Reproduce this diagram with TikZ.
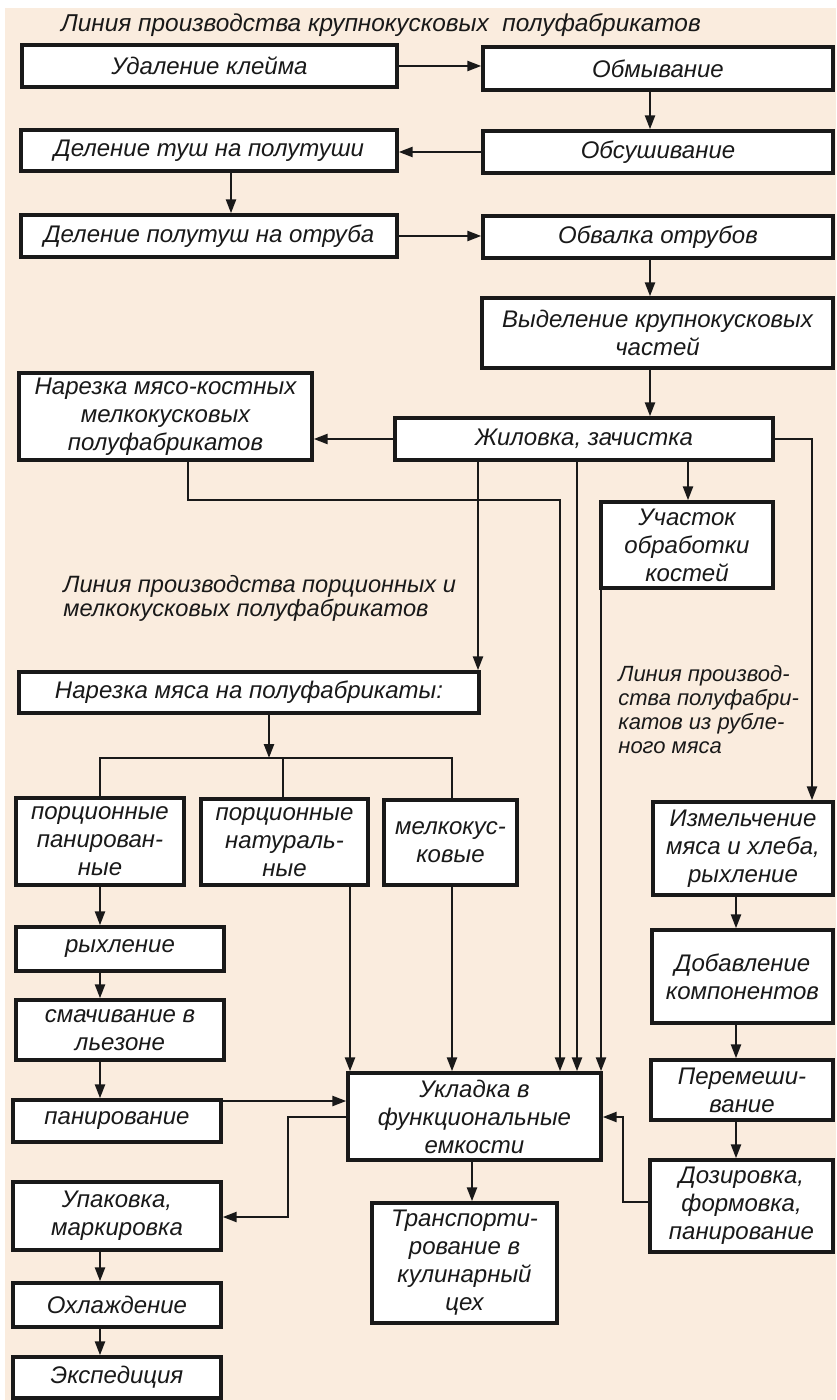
\documentclass[tikz,border=0pt]{standalone}
\usepackage{fontspec}
\setmainfont{Liberation Sans}
\usetikzlibrary{arrows.meta}
\definecolor{bg}{RGB}{250,236,222}
\definecolor{ink}{RGB}{25,25,25}
\newcommand\boxfont{\fontsize{12}{14}\selectfont\itshape}
\newcommand\notefont{\fontsize{11}{12}\selectfont\itshape}
\newcommand\bx[6]{%
  \pgfmathsetmacro\bxw{(#4-#2)*0.5}%
  \pgfmathsetmacro\bxh{(#5-#3)*0.5}%
  \pgfmathsetmacro\bxx{(#2+#4)/2}%
  \pgfmathsetmacro\bxy{(#3+#5)/2}%
  \node[box,minimum width=\bxw pt,minimum height=\bxh pt] (#1) at (\bxx,\bxy) {#6};}
\begin{document}
\begin{tikzpicture}[x=0.5pt,y=-0.5pt,
  box/.style={draw=ink, line width=1.7pt, fill=white, inner sep=0pt, align=center, font=\boxfont, text=ink},
  con/.style={draw=ink, line width=1.2pt},
  arr/.style={con, -{Triangle[length=7pt,width=5pt]}},
  note/.style={font=\notefont, text=ink, align=left, inner sep=0pt}]
\useasboundingbox (0,0) rectangle (836,1400);
\fill[white] (0,0) rectangle (836,1400);
\fill[bg] (5,8) rectangle (836,1400);

% free texts
\node[note, font=\fontsize{12.2}{13}\selectfont\itshape] (t1) at (381,25) {Линия производства крупнокусковых\ \ полуфабрикатов};
\node[note, anchor=north west, font=\fontsize{11.8}{12}\selectfont\itshape] (t2) at (63,575) {Линия производства порционных и\\мелкокусковых полуфабрикатов};
\node[note, anchor=north west] (t3) at (618,665) {Линия производ-\\ства полуфабри-\\катов из рубле-\\ного мяса};

% boxes
\bx{ud}{22}{45}{397}{87}{Удаление клейма}
\bx{obm}{483}{47}{833}{90}{Обмывание}
\bx{del1}{21}{130}{397}{171}{Деление туш на полутуши}
\bx{obs}{483}{131}{833}{173}{Обсушивание}
\bx{del2}{21}{215}{397}{257}{Деление полутуш на отруба}
\bx{obv}{483}{216}{833}{258}{Обвалка отрубов}
\bx{vyd}{482}{298}{833}{368}{Выделение крупнокусковых\\частей}
\bx{nkost}{19}{373}{312}{460}{Нарезка мясо-костных\\мелкокусковых\\полуфабрикатов}
\bx{zhil}{395}{418}{773}{460}{Жиловка, зачистка}
\bx{uch}{601}{502}{773}{588}{Участок\\обработки\\костей}
\bx{narez}{19}{672}{479}{713}{Нарезка мяса на полуфабрикаты:}
\bx{pp}{16}{798}{184}{885}{порционные\\панирован-\\ные}
\bx{pn}{201}{799}{368}{885}{порционные\\натураль-\\ные}
\bx{mk}{384}{800}{517}{885}{мелкокус-\\ковые}
\bx{izm}{653}{802}{833}{895}{Измельчение\\мяса и хлеба,\\рыхление}
\bx{ryh}{16}{927}{224}{971}{рыхление}
\bx{smach}{16}{1000}{224}{1060}{смачивание в\\льезоне}
\bx{pan}{13}{1100}{221}{1142}{панирование}
\bx{dob}{652}{930}{833}{1023}{Добавление\\компонентов}
\bx{per}{651}{1060}{833}{1120}{Перемеши-\\вание}
\bx{ukl}{348}{1073}{601}{1160}{Укладка в\\функциональные\\емкости}
\bx{doz}{650}{1160}{833}{1252}{Дозировка,\\формовка,\\панирование}
\bx{upak}{13}{1182}{221}{1250}{Упаковка,\\маркировка}
\bx{trans}{372}{1203}{557}{1323}{Транспорти-\\рование в\\кулинарный\\цех}
\bx{ohl}{13}{1283}{221}{1327}{Охлаждение}
\bx{eksp}{13}{1357}{221}{1398}{Экспедиция}

% helper coordinates
\coordinate (xA) at (650,0);
\coordinate (xB) at (231,0);
\coordinate (xC) at (188,0);
\coordinate (yC) at (0,500);
\coordinate (xD) at (560,0);
\coordinate (xE) at (478,0);
\coordinate (xF) at (577,0);
\coordinate (xG) at (688,0);
\coordinate (xH) at (601,0);
\coordinate (xI) at (812,0);
\coordinate (xJ) at (269,0);
\coordinate (yJ) at (0,758);
\coordinate (xK) at (100,0);
\coordinate (xL) at (283,0);
\coordinate (xM) at (452,0);
\coordinate (yN) at (0,1101);
\coordinate (xO) at (350,0);
\coordinate (yP) at (0,1117);
\coordinate (xQ) at (288,0);
\coordinate (yR) at (0,1217);
\coordinate (xS) at (472,0);
\coordinate (xT) at (736,0);
\coordinate (yU) at (0,1202);
\coordinate (xV) at (623,0);

% connectors
\draw[arr] (ud.east) -- (ud.east -| obm.west);
\draw[arr] (obm.south -| xA) -- (obs.north -| xA);
\draw[arr] (obs.west) -- (obs.west -| del1.east);
\draw[arr] (del1.south -| xB) -- (del2.north -| xB);
\draw[arr] (del2.east) -- (del2.east -| obv.west);
\draw[arr] (obv.south -| xA) -- (vyd.north -| xA);
\draw[arr] (vyd.south -| xA) -- (zhil.north -| xA);
\draw[arr] (zhil.west) -- (zhil.west -| nkost.east);
\draw[arr] (nkost.south -| xC) |- (yC -| xD) -- (ukl.north -| xD);
\draw[arr] (zhil.south -| xE) -- (narez.north -| xE);
\draw[arr] (zhil.south -| xF) -- (ukl.north -| xF);
\draw[arr] (zhil.south -| xG) -- (uch.north -| xG);
\draw[arr] (uch.south -| xH) -- (ukl.north -| xH);
\draw[arr] (zhil.east) -| (izm.north -| xI);
\draw[arr] (narez.south -| xJ) -- (yJ -| xJ);
\draw[con] (pp.north -| xK) |- (yJ -| xM) -- (mk.north -| xM);
\draw[con] (yJ -| xL) -- (pn.north -| xL);
\draw[arr] (pp.south -| xK) -- (ryh.north -| xK);
\draw[arr] (ryh.south -| xK) -- (smach.north -| xK);
\draw[arr] (smach.south -| xK) -- (pan.north -| xK);
\draw[arr] (pan.east |- yN) -- (ukl.west |- yN);
\draw[arr] (pn.south -| xO) -- (ukl.north -| xO);
\draw[arr] (mk.south -| xM) -- (ukl.north -| xM);
\draw[arr] (ukl.west |- yP) -| (yR -| xQ) -- (upak.east |- yR);
\draw[arr] (ukl.south -| xS) -- (trans.north -| xS);
\draw[arr] (izm.south -| xT) -- (dob.north -| xT);
\draw[arr] (dob.south -| xT) -- (per.north -| xT);
\draw[arr] (per.south -| xT) -- (doz.north -| xT);
\draw[arr] (doz.west |- yU) -| (yP -| xV) -- (ukl.east |- yP);
\draw[arr] (upak.south -| xK) -- (ohl.north -| xK);
\draw[arr] (ohl.south -| xK) -- (eksp.north -| xK);
\end{tikzpicture}
\end{document}
